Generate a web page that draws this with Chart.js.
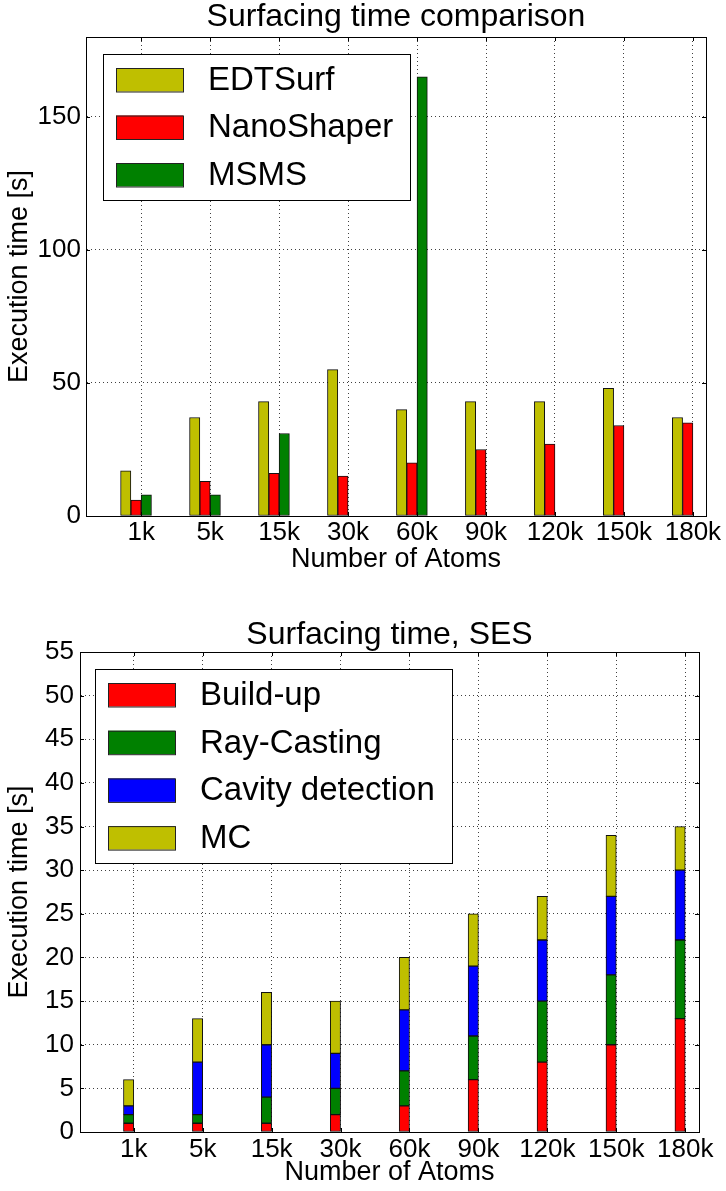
<!DOCTYPE html>
<html><head><meta charset="utf-8">
<script src="https://cdn.jsdelivr.net/npm/chart.js@4.4.1/dist/chart.umd.min.js"></script>
<style>
html,body{margin:0;padding:0;background:#fff;width:726px;height:1191px;overflow:hidden}
.wrap{position:absolute;left:0;width:726px}
canvas{display:block}
</style></head><body>
<div class="wrap" style="top:0;height:595px"><canvas id="c1" width="726" height="595"></canvas></div>
<div class="wrap" style="top:595px;height:596px"><canvas id="c2" width="726" height="596"></canvas></div>
<script>
// ---- data ----
const atomLabels = ['1k','5k','15k','30k','60k','90k','120k','150k','180k'];
// top chart: total surfacing time [s]
const edtsurf    = [17, 37, 43, 55, 40, 43, 43, 48, 37];
const nanoshaper = [ 6, 13, 16, 15, 20, 25, 27, 34, 35];
const msms       = [ 8,  8, 31, null, 165, null, null, null, null];
// bottom chart: NanoShaper SES breakdown [s]
const buildUp         = [1, 1, 1, 2, 3, 6, 8, 10, 13];
const rayCasting      = [1, 1, 3, 3, 4, 5, 7,  8,  9];
const cavityDetection = [1, 6, 6, 4, 7, 8, 7,  9,  8];
const marchingCubes   = [3, 5, 6, 6, 6, 6, 5,  7,  5];

// ---- style ----
const FONT = "'Liberation Sans', Arial, Helvetica, sans-serif";
const YEL = '#bfbf00', RED = '#ff0000', GRN = '#008000', BLU = '#0000ff';
const GRID = 'rgba(0,0,0,0.75)';
Chart.defaults.font.family = FONT;
Chart.defaults.color = '#000';

const toXY = arr => arr.map((v, i) => ({x: i, y: v}));

const framePlugin = {
  id: 'frame',
  afterDatasetsDraw(chart) {
    const {ctx, chartArea: a, scales: {x, y}} = chart;
    ctx.save();
    ctx.strokeStyle = '#000';
    ctx.lineWidth = 1;
    ctx.beginPath();
    x.ticks.forEach(t => {
      const p = Math.round(x.getPixelForValue(t.value)) + 0.5;
      ctx.moveTo(p, a.bottom); ctx.lineTo(p, a.bottom - 4);
      ctx.moveTo(p, a.top); ctx.lineTo(p, a.top + 4);
    });
    y.ticks.forEach(t => {
      const p = Math.round(y.getPixelForValue(t.value)) + 0.5;
      ctx.moveTo(a.left, p); ctx.lineTo(a.left + 4, p);
      ctx.moveTo(a.right, p); ctx.lineTo(a.right - 4, p);
    });
    ctx.stroke();
    ctx.strokeRect(Math.round(a.left) + 0.5, Math.round(a.top) + 0.5,
                   Math.round(a.right - a.left), Math.round(a.bottom - a.top));
    ctx.restore();
  }
};

const boxLegendPlugin = {
  id: 'boxLegend',
  afterDatasetsDraw(chart, args, opts) {
    const {ctx, chartArea: a} = chart;
    const items = chart.data.datasets.filter(d => !d.spacer);
    ctx.save();
    ctx.font = opts.fontSize + 'px ' + FONT;
    const tw = Math.max(...items.map(d => ctx.measureText(d.label).width));
    const x0 = Math.round(a.left + opts.dx), y0 = Math.round(a.top + opts.dy);
    const sw = 67, sh = 23.5, pad = 13, gap = 25, row = opts.row, top = 14;
    const w = Math.round(pad + sw + gap + tw + opts.rpad);
    const h = Math.round(top + (items.length - 1) * row + sh + 13.5);
    ctx.fillStyle = '#fff';
    ctx.fillRect(x0, y0, w, h);
    ctx.strokeStyle = '#000';
    ctx.lineWidth = 1;
    ctx.strokeRect(x0 + 0.5, y0 + 0.5, w, h);
    items.forEach((d, i) => {
      const sy = y0 + top + i * row;
      ctx.fillStyle = d.backgroundColor;
      ctx.fillRect(x0 + pad, sy, sw, sh);
      ctx.strokeStyle = '#222';
      ctx.strokeRect(x0 + pad + 0.5, sy + 0.5, sw, sh);
      ctx.fillStyle = '#000';
      ctx.textBaseline = 'middle';
      ctx.textAlign = 'left';
      ctx.fillText(d.label, x0 + pad + sw + gap, sy + sh / 2 + 1);
    });
    ctx.restore();
  }
};

function barDs(label, color, arr, extra) {
  return Object.assign({
    label, data: toXY(arr), backgroundColor: color,
    borderColor: '#111', borderWidth: 1, borderSkipped: false,
    barThickness: 10.3
  }, extra || {});
}

function xAxis(min, max, h, tickPad, titlePadBottom, stacked) {
  return {
    type: 'linear', min, max, stacked, offset: false,
    afterFit: s => { s.height = h; },
    ticks: {
      stepSize: 1, includeBounds: false, autoSkip: false, maxRotation: 0,
      padding: tickPad, color: '#000', font: {size: 26},
      callback: v => atomLabels[v] !== undefined ? atomLabels[v] : ''
    },
    grid: {color: GRID, lineWidth: 1, drawTicks: false, offset: false},
    border: {display: true, color: '#000', dash: [1, 3]},
    title: {display: true, text: 'Number of Atoms', color: '#000',
            font: {size: 27}, padding: {top: 0, bottom: titlePadBottom}}
  };
}

function yAxis(max, step, w, tickPad, stacked) {
  return {
    min: 0, max, stacked,
    afterFit: s => { s.width = w; },
    ticks: {stepSize: step, includeBounds: false, padding: tickPad,
            color: '#000', font: {size: 26}},
    grid: {color: GRID, lineWidth: 1, drawTicks: false},
    border: {display: true, color: '#000', dash: [1, 3]},
    title: {display: true, text: 'Execution time [s]', color: '#000',
            font: {size: 27}, padding: {top: 3.5, bottom: 0}}
  };
}

// ---- top chart ----
new Chart(document.getElementById('c1'), {
  type: 'bar',
  data: {
    datasets: [
      barDs('EDTSurf', YEL, edtsurf),
      barDs('NanoShaper', RED, nanoshaper),
      barDs('MSMS', GRN, msms),
      {label: '', spacer: true, data: [], barThickness: 10.3}
    ]
  },
  options: {
    responsive: false, animation: false,
    layout: {padding: {left: 0, right: 20, top: 0, bottom: 0}},
    scales: {
      x: xAxis(-0.8, 8.19, 79, 1, 19.4, false),
      y: yAxis(180, 50, 86, 5, false)
    },
    plugins: {
      legend: {display: false}, tooltip: {enabled: false},
      title: {display: true, text: 'Surfacing time comparison', fullSize: false,
              color: '#000', font: {size: 32, weight: 'normal', lineHeight: 1},
              padding: {top: 1, bottom: 4}},
      boxLegend: {dx: 17, dy: 17, fontSize: 33, rpad: 17, row: 47.5}
    }
  },
  plugins: [framePlugin, boxLegendPlugin]
});

// ---- bottom chart ----
new Chart(document.getElementById('c2'), {
  type: 'bar',
  data: {
    datasets: [
      barDs('Build-up', RED, buildUp, {stack: 'ses'}),
      barDs('Ray-Casting', GRN, rayCasting, {stack: 'ses'}),
      barDs('Cavity detection', BLU, cavityDetection, {stack: 'ses'}),
      barDs('MC', YEL, marchingCubes, {stack: 'ses'}),
      {label: '', spacer: true, data: [], stack: 'spacer', barThickness: 10.3}
    ]
  },
  options: {
    responsive: false, animation: false,
    layout: {padding: {left: 0, right: 27, top: 0, bottom: 0}},
    scales: {
      x: xAxis(-0.78, 8.2, 59, 2, 2.4, true),
      y: yAxis(55, 5, 80, 6, true)
    },
    plugins: {
      legend: {display: false}, tooltip: {enabled: false},
      title: {display: true, text: 'Surfacing time, SES', fullSize: false,
              color: '#000', font: {size: 32, weight: 'normal', lineHeight: 1},
              padding: {top: 24, bottom: 1}},
      boxLegend: {dx: 15, dy: 17, fontSize: 33, rpad: 17, row: 47.7}
    }
  },
  plugins: [framePlugin, boxLegendPlugin]
});
</script>
</body></html>
